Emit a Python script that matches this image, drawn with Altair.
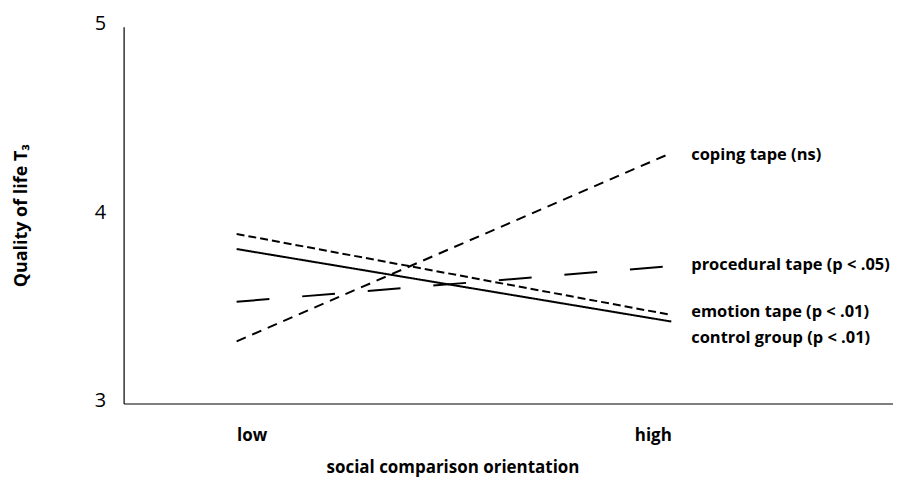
import altair as alt
import pandas as pd

groups = ["control group (p < .01)", "emotion tape (p < .01)", "procedural tape (p < .05)", "coping tape (ns)"]
low_vals = [3.82, 3.90, 3.54, 3.33]
high_vals = [3.435, 3.47, 3.73, 4.33]
label_y = [3.35, 3.487, 3.735, 4.32]
dashes = [[1, 0], [8, 4], [33, 33], [10, 7]]
y_ticks = [3, 4, 5]
x_ticks = [0, 1]

rows = []
for g, lo, hi in zip(groups, low_vals, high_vals):
    rows.append({"group": g, "x": 0, "y": lo})
    rows.append({"group": g, "x": 1, "y": hi})
df = pd.DataFrame(rows)
lab = pd.DataFrame({"group": groups, "x": [1] * 4, "y": label_y})

FONT = "Open Sans"

xscale = alt.Scale(domain=[-0.26, 1.51], nice=False, zero=False)
yscale = alt.Scale(domain=[3, 5], nice=False, zero=False)

xaxis = alt.Axis(values=x_ticks, labelExpr="datum.value == 0 ? 'low' : 'high'",
                 labelAlign=alt.expr("datum.value == 0 ? 'left' : 'right'"),
                 ticks=False, grid=False, domainColor="black", domainWidth=1.2,
                 labelFont=FONT, labelFontSize=17, labelFontWeight="bold",
                 labelColor="black", labelPadding=24, labelOverlap=False,
                 title="social comparison orientation", titleFont=FONT,
                 titleFontSize=17, titleFontWeight="bold", titleColor="black",
                 titlePadding=16, titleX=330, titleAlign="center")
yaxis = alt.Axis(values=y_ticks, labelExpr="format(datum.value, 'd')",
                 ticks=False, grid=False,
                 domainColor="black", domainWidth=1.2,
                 labelFont=FONT, labelFontSize=20, labelColor="black",
                 labelPadding=18, labelOverlap=False, labelFlush=False,
                 labelBound=False, labelOffset=-3,
                 title="Quality of life T₃", titleFont=FONT, titleFontSize=18,
                 titleFontWeight="bold", titleColor="black", titlePadding=64)

lines = alt.Chart(df).mark_line(color="black", strokeWidth=2).encode(
    x=alt.X("x:Q", scale=xscale, axis=xaxis),
    y=alt.Y("y:Q", scale=yscale, axis=yaxis),
    strokeDash=alt.StrokeDash("group:N", scale=alt.Scale(domain=groups, range=dashes), legend=None),
    detail="group:N",
)

labels = alt.Chart(lab).mark_text(align="left", baseline="middle", dx=20, font=FONT,
                                  fontSize=16.5, fontWeight="bold", color="black").encode(
    x=alt.X("x:Q", scale=xscale, axis=xaxis),
    y=alt.Y("y:Q", scale=yscale, axis=yaxis),
    text="group:N",
)

chart = (lines + labels).properties(
    width=772, height=378,
    autosize=alt.AutoSizeParams(type="none"),
    padding={"left": 116, "top": 18, "right": 0, "bottom": 90},
).configure_view(stroke=None)

chart.save("out.html", embed_options={"renderer": "svg", "actions": False})
